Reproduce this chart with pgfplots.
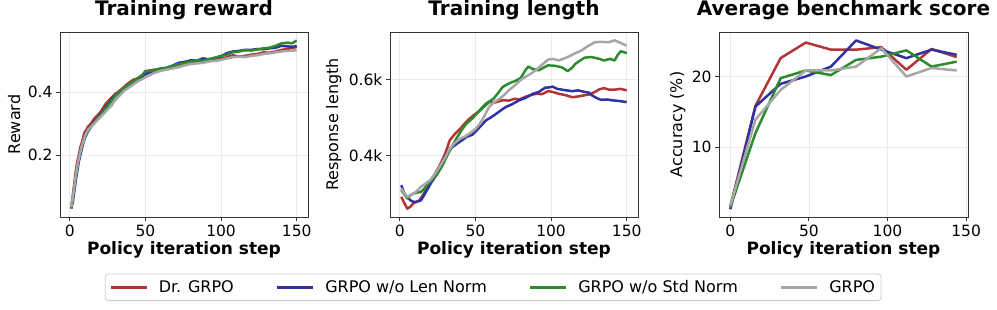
\documentclass[border=0pt]{standalone}
\usepackage{pgfplots}
\pgfplotsset{compat=1.18}
\usepackage{fontspec}
\setmainfont{DejaVu Sans}
\definecolor{cred}{HTML}{B03636}
\definecolor{cblue}{HTML}{3131A6}
\definecolor{cgreen}{HTML}{2E8A2E}
\definecolor{cgray}{HTML}{A6A6A6}
\definecolor{cgrid}{HTML}{EAEAEA}
\pgfplotsset{
  base/.style={
    scale only axis, width=248bp, height=185bp,
    axis line style={black!80, line width=0.9bp},
    grid=major, major grid style={cgrid, line width=0.8bp},
    tick align=outside, major tick length=4bp,
    tick style={black!80, line width=0.9bp},
    xtick pos=bottom, ytick pos=left,
    /pgf/number format/assume math mode=true,
    tick label style={font=\fontsize{15.5bp}{18bp}\selectfont},
    xlabel={\bfseries Policy iteration step},
    xlabel style={at={(axis description cs:0.5,0)}, anchor=base, yshift=-37bp, font=\fontsize{17bp}{20bp}\selectfont},
    title style={at={(axis description cs:0.5,1)}, anchor=base, yshift=11bp, font=\fontsize{20bp}{24bp}\selectfont\bfseries},
    ylabel style={at={(axis description cs:0,0.5)}, anchor=base, font=\fontsize{16bp}{19bp}\selectfont},
    every axis plot/.append style={line width=2.5bp, line join=round},
    xtick={0,50,100,150},
  }
}
\begin{document}
\begin{tikzpicture}
\path[use as bounding box] (0,0) rectangle (997bp,310bp);
% Panel 1
\begin{axis}[base, at={(60bp,93bp)}, anchor=south west,
  title={Training reward}, ylabel={Reward}, ylabel style={yshift=40bp},
  xmin=-6.45, xmax=157.45, ymin=0.003, ymax=0.592,
  ytick={0.2,0.4}, yticklabels={0.2,0.4}]
\addplot[cred] coordinates {(1,0.035)(2,0.07)(3,0.11)(4,0.15)(5,0.18)(6,0.20)(7,0.225)(8,0.24)(9,0.26)(10,0.275)(11,0.28)(12,0.29)(14,0.30)(16,0.315)(18,0.325)(20,0.335)(22,0.35)(24,0.365)(26,0.375)(28,0.385)(30,0.395)(33,0.405)(36,0.418)(39,0.43)(42,0.44)(45,0.445)(48,0.455)(50,0.465)(53,0.47)(56,0.472)(60,0.474)(64,0.476)(68,0.482)(72,0.488)(76,0.494)(80,0.497)(84,0.498)(88,0.502)(92,0.503)(96,0.506)(100,0.507)(104,0.512)(108,0.518)(112,0.514)(116,0.516)(120,0.52)(124,0.522)(128,0.527)(132,0.526)(136,0.53)(140,0.535)(144,0.538)(148,0.542)(150,0.545)};
\addplot[cblue] coordinates {(1,0.03)(2,0.05)(3,0.085)(4,0.12)(5,0.15)(6,0.18)(7,0.2)(8,0.22)(9,0.24)(10,0.255)(11,0.265)(12,0.275)(14,0.29)(16,0.305)(18,0.315)(20,0.33)(22,0.34)(24,0.355)(26,0.365)(28,0.38)(30,0.39)(33,0.40)(36,0.412)(39,0.422)(42,0.432)(45,0.44)(48,0.45)(50,0.458)(53,0.462)(56,0.468)(60,0.475)(64,0.478)(68,0.485)(72,0.494)(76,0.497)(80,0.502)(84,0.501)(88,0.508)(92,0.505)(96,0.51)(100,0.515)(104,0.525)(108,0.53)(112,0.532)(116,0.535)(120,0.535)(124,0.538)(128,0.537)(132,0.54)(136,0.542)(140,0.548)(144,0.546)(148,0.545)(150,0.548)};
\addplot[cgreen] coordinates {(1,0.03)(2,0.06)(3,0.10)(4,0.135)(5,0.16)(6,0.19)(7,0.21)(8,0.23)(9,0.245)(10,0.26)(11,0.27)(12,0.278)(14,0.29)(16,0.3)(18,0.315)(20,0.325)(22,0.338)(24,0.35)(26,0.362)(28,0.375)(30,0.388)(33,0.402)(36,0.415)(39,0.425)(42,0.435)(45,0.445)(48,0.455)(50,0.468)(53,0.468)(56,0.47)(60,0.476)(64,0.478)(68,0.484)(72,0.49)(76,0.494)(80,0.498)(84,0.502)(88,0.5)(92,0.506)(96,0.51)(100,0.516)(104,0.52)(108,0.528)(112,0.53)(116,0.534)(120,0.533)(124,0.536)(128,0.54)(132,0.542)(136,0.548)(140,0.556)(144,0.558)(147,0.556)(150,0.565)};
\addplot[cgray] coordinates {(1,0.035)(2,0.065)(3,0.10)(4,0.135)(5,0.165)(6,0.19)(7,0.21)(8,0.23)(9,0.245)(10,0.26)(11,0.27)(12,0.28)(14,0.29)(16,0.30)(18,0.31)(20,0.32)(22,0.33)(24,0.34)(26,0.35)(28,0.36)(30,0.375)(33,0.39)(36,0.405)(39,0.415)(42,0.425)(45,0.435)(48,0.442)(50,0.448)(53,0.455)(56,0.462)(60,0.468)(64,0.472)(68,0.476)(72,0.48)(76,0.486)(80,0.49)(84,0.492)(88,0.494)(92,0.498)(96,0.5)(100,0.503)(104,0.508)(108,0.512)(112,0.514)(116,0.512)(120,0.516)(124,0.518)(128,0.522)(132,0.524)(136,0.527)(140,0.53)(144,0.532)(148,0.533)(150,0.534)};
\end{axis}
% Panel 2
\begin{axis}[base, at={(390bp,93bp)}, anchor=south west,
  title={Training length}, ylabel={Response length}, ylabel style={yshift=52bp},
  xmin=-6.45, xmax=157.45, ymin=238, ymax=726,
  ytick={400,600}, yticklabels={0.4k,0.6k},
  legend columns=4,
  legend style={at={(axis description cs:0.416,-0.38)}, anchor=center,
    draw=black!20, rounded corners=3bp, line width=0.8bp,
    font=\fontsize{16bp}{19bp}\selectfont,
    /tikz/every even column/.append style={column sep=40bp},
    /tikz/every odd column/.append style={column sep=9bp},
    inner xsep=4bp, inner ysep=4.5bp},
  legend image code/.code={\draw[#1, line width=2.5bp] (0bp,0bp) -- (36bp,0bp);}]
\addplot[cred] coordinates {(1,291)(3,275)(5,260)(7,265)(9,274)(11,278)(13,282)(16,300)(20,331)(23,350)(27,379)(30,405)(33,440)(36,455)(40,471)(43,485)(46,497)(50,510)(53,519)(56,530)(59,541)(63,540)(68,546)(72,545)(76,550)(79,548)(83,555)(87,560)(90,563)(94,562)(98,570)(101,568)(105,563)(109,560)(114,554)(118,556)(122,559)(126,562)(129,568)(132,575)(135,578)(138,574)(142,574)(146,576)(150,572)};
\addlegendentry{Dr. GRPO}
\addplot[cblue] coordinates {(1,322)(3,300)(5,291)(7,282)(9,278)(11,278)(14,282)(16,295)(18,309)(21,330)(25,353)(28,380)(31,405)(34,420)(38,432)(41,440)(44,449)(48,455)(51,467)(54,480)(57,493)(60,500)(64,511)(67,520)(70,528)(74,535)(79,546)(83,552)(88,563)(92,568)(96,579)(99,580)(101,582)(104,576)(107,574)(110,572)(114,570)(118,572)(122,568)(125,566)(127,559)(130,552)(133,547)(137,548)(140,546)(145,544)(150,541)};
\addlegendentry{GRPO w/o Len Norm}
\addplot[cgreen] coordinates {(1,309)(3,298)(5,287)(7,295)(9,300)(11,302)(14,304)(16,312)(18,322)(21,335)(25,353)(28,372)(31,397)(34,420)(38,449)(41,468)(44,484)(48,498)(51,511)(54,525)(57,537)(60,545)(62,550)(65,565)(68,581)(72,590)(77,598)(80,605)(83,625)(85,635)(88,628)(92,625)(95,632)(98,638)(102,637)(107,633)(111,623)(114,632)(116,642)(119,650)(122,658)(126,660)(129,658)(132,655)(135,651)(139,655)(142,651)(144,665)(146,675)(148,673)(150,670)};
\addlegendentry{GRPO w/o Std Norm}
\addplot[cgray] coordinates {(1,313)(3,300)(5,291)(7,295)(9,300)(11,305)(14,318)(17,326)(20,335)(23,350)(27,375)(30,395)(33,418)(36,432)(40,445)(43,450)(46,458)(50,470)(53,484)(56,505)(59,528)(62,540)(66,550)(69,560)(72,572)(76,585)(81,603)(85,612)(90,625)(94,640)(98,653)(101,655)(105,651)(108,655)(111,660)(115,668)(120,677)(124,688)(129,699)(133,700)(138,699)(142,704)(146,697)(150,690)};
\addlegendentry{GRPO}
\end{axis}
% Panel 3
\begin{axis}[base, at={(719bp,93bp)}, anchor=south west, width=249bp,
  title={Average benchmark score}, ylabel={Accuracy (\%)}, ylabel style={yshift=37bp},
  xmin=-7.2, xmax=151.2, ymin=0.1, ymax=26.3,
  ytick={10,20}]
\addplot[cred] coordinates {(0,1.6)(16,15.85)(32,22.6)(48,24.8)(64,23.8)(80,23.8)(96,24.15)(112,20.95)(128,23.9)(144,22.75)};
\addplot[cblue] coordinates {(0,1.2)(16,15.75)(32,18.96)(48,20.0)(64,21.4)(80,25.1)(96,23.8)(112,22.6)(128,23.8)(144,23.07)};
\addplot[cgreen] coordinates {(0,1.5)(16,12.0)(32,19.76)(48,20.85)(64,20.2)(80,22.35)(96,22.8)(112,23.7)(128,21.4)(144,22.1)};
\addplot[cgray] coordinates {(0,1.7)(16,13.9)(32,18.1)(48,20.85)(64,20.85)(80,21.4)(96,24.0)(112,20.0)(128,21.2)(144,20.85)};
\end{axis}
\end{tikzpicture}
\end{document}
